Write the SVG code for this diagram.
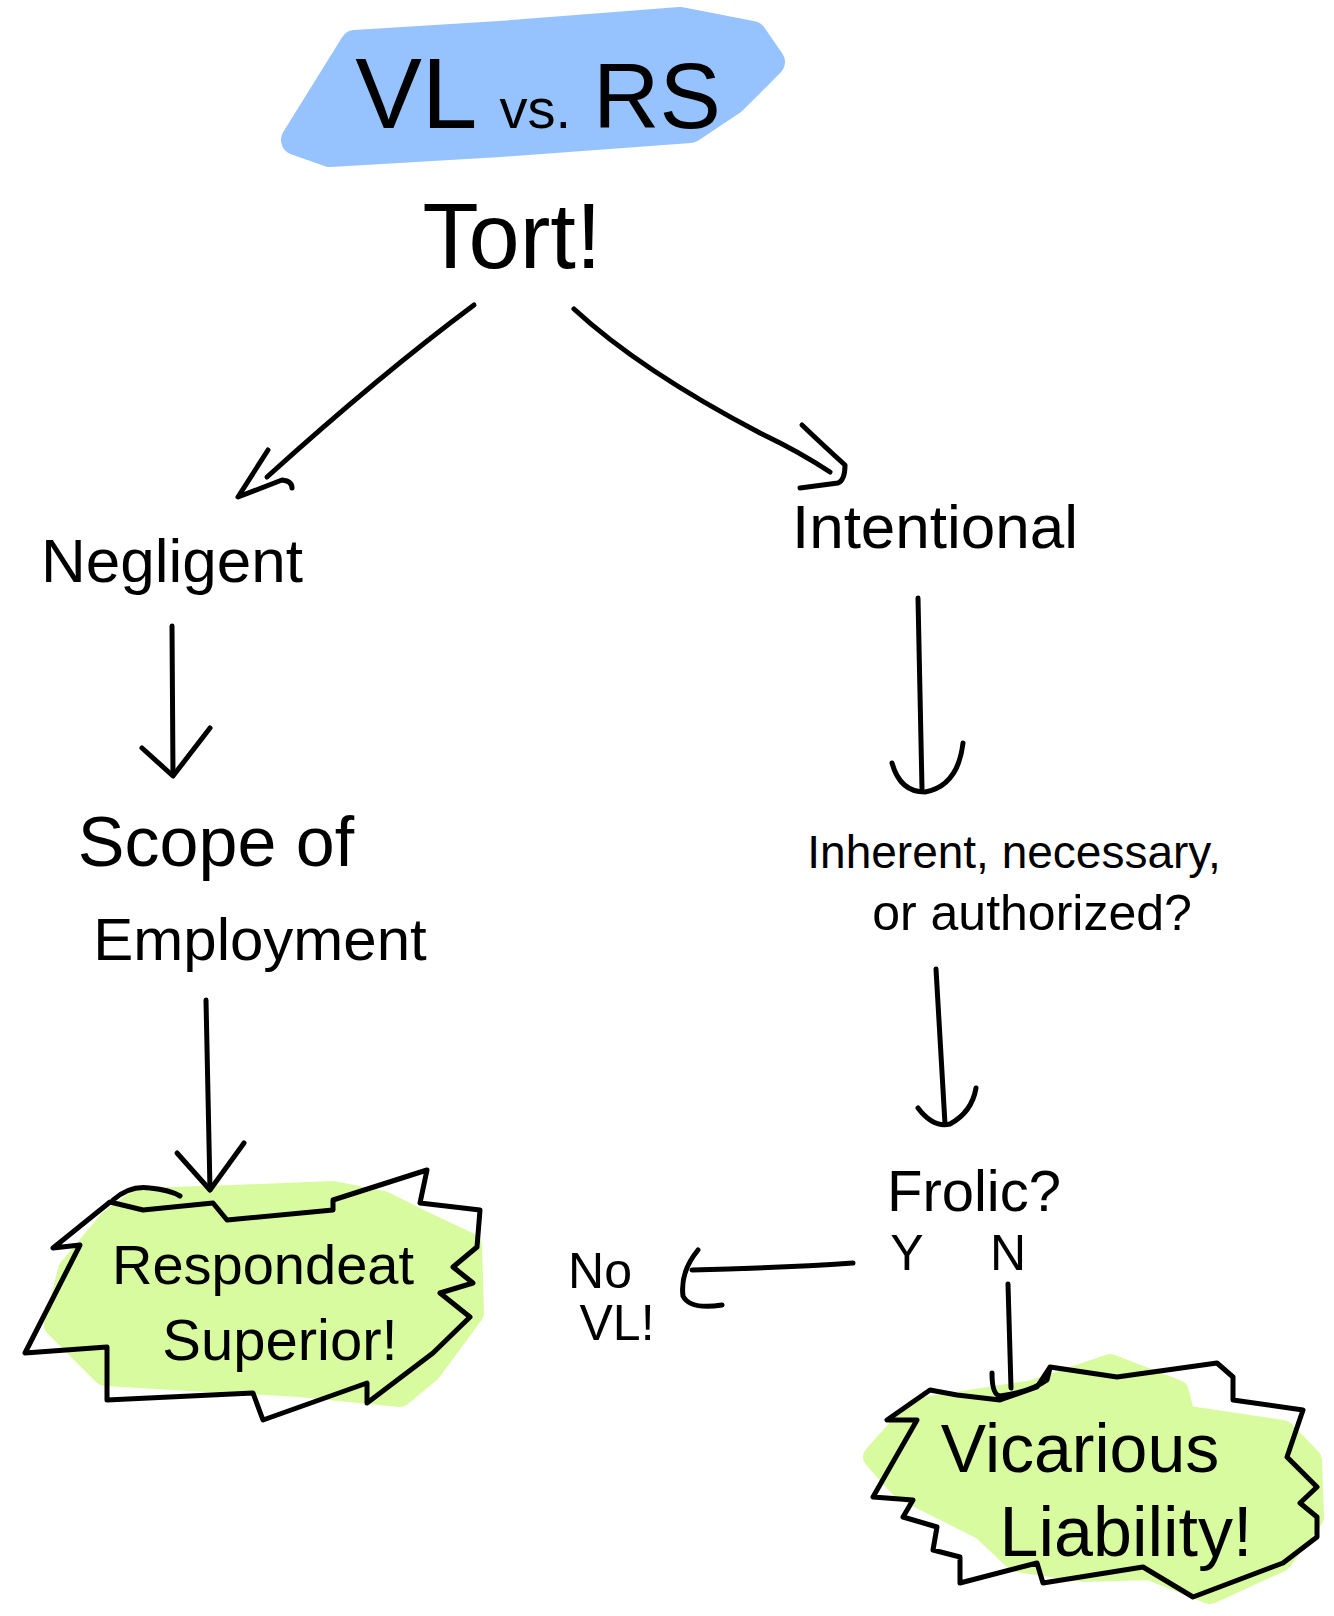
<svg xmlns="http://www.w3.org/2000/svg" width="1334" height="1616" viewBox="0 0 1334 1616">
<style>
  .t { font-family: "Liberation Sans", "DejaVu Sans", sans-serif; fill: #000; }
  .conn { fill: none; stroke: #000; stroke-width: 5; stroke-linecap: round; stroke-linejoin: round; }
  .outline { fill: none; stroke: #000; stroke-width: 5; stroke-linecap: round; stroke-linejoin: round; }
  .blue { fill: #96c3fd; stroke: #96c3fd; stroke-width: 30; stroke-linejoin: round; }
  .green { fill: #d9fba0; stroke: #d9fba0; stroke-width: 24; stroke-linejoin: round; }
</style>
<rect width="1334" height="1616" fill="#ffffff"/>

<g id="title">
  <path class="blue" d="M296,140 L355,45 L500,36 L680,22 L752,36 L770,62 L732,100 L690,128 L500,142 L330,152 Z"/>
  <text class="t" x="538" y="128" text-anchor="middle"><tspan font-size="100">VL</tspan><tspan font-size="56" dx="22">vs.</tspan><tspan font-size="92" dx="22">RS</tspan></text>
</g>

<g id="tort">
  <text class="t" x="512" y="268" text-anchor="middle" font-size="92">Tort!</text>
</g>

<g id="negligent">
  <text class="t" x="172" y="582" text-anchor="middle" font-size="62">Negligent</text>
</g>

<g id="intentional">
  <text class="t" x="935" y="548" text-anchor="middle" font-size="62">Intentional</text>
</g>

<g id="scope">
  <text class="t" x="216" y="866" text-anchor="middle" font-size="70">Scope of</text>
  <text class="t" x="260" y="960" text-anchor="middle" font-size="60">Employment</text>
</g>

<g id="inherent">
  <text class="t" x="1014" y="868" text-anchor="middle" font-size="46">Inherent, necessary,</text>
  <text class="t" x="1032" y="930" text-anchor="middle" font-size="50">or authorized?</text>
</g>

<g id="respondeat">
  <path class="green" d="M140,1200 L233,1197 L333,1193 L383,1203 L417,1220 L470,1245 L472,1313 L430,1370 L400,1395 L300,1385 L207,1380 L105,1374 L56,1325 L70,1270 L110,1222 Z"/>
  <path class="outline" d="M110,1202 L53,1248 L80,1245 L25,1353 L107,1347 L107,1400 L253,1393 L263,1420 L367,1383 L367,1403 L433,1353 L470,1317 L440,1293 L473,1283 L453,1267 L477,1247 L480,1210 L420,1203 L427,1170 L333,1200 L333,1210 L227,1220 L213,1203 L143,1210 Z M113,1200 Q130,1185 150,1188 Q170,1190 180,1196"/>
  <text class="t" x="263" y="1284" text-anchor="middle" font-size="56">Respondeat</text>
  <text class="t" x="280" y="1360" text-anchor="middle" font-size="58">Superior!</text>
</g>

<g id="frolic">
  <text class="t" x="974" y="1211" text-anchor="middle" font-size="58">Frolic?</text>
  <text class="t" x="907" y="1270" text-anchor="middle" font-size="50">Y</text>
  <text class="t" x="1008" y="1270" text-anchor="middle" font-size="50">N</text>
</g>

<g id="novl">
  <text class="t" x="600" y="1288" text-anchor="middle" font-size="50">No</text>
  <text class="t" x="617" y="1340" text-anchor="middle" font-size="50">VL!</text>
</g>

<g id="vicarious">
  <path class="green" d="M875,1457 L917,1410 L1033,1392 L1110,1366 L1177,1392 L1183,1417 L1283,1432 L1310,1460 L1312,1517 L1280,1560 L1210,1592 L1150,1568 L1083,1570 L1017,1560 L983,1528 L903,1488 Z"/>
  <path class="outline" d="M957,1395 L930,1390 L887,1420 L917,1420 L873,1497 L913,1500 L903,1517 L937,1527 L933,1550 L960,1557 L960,1583 L1037,1563 L1043,1583 L1143,1567 L1193,1597 L1283,1563 L1317,1537 L1317,1517 L1300,1503 L1317,1487 L1287,1457 L1303,1410 L1233,1400 L1233,1377 L1217,1363 L1117,1377 L1050,1367 L1037,1387 L1000,1400 Z"/>
  <text class="t" x="1080" y="1472" text-anchor="middle" font-size="68">Vicarious</text>
  <text class="t" x="1126" y="1556" text-anchor="middle" font-size="70">Liability!</text>
</g>

<g id="connectors">
  <path class="conn" d="M474,305 Q380,375 267,477"/>
  <path class="conn" d="M268,450 L238,497 L282,480 Q292,481 292,488"/>
  <path class="conn" d="M574,309 Q640,370 760,433 Q800,452 830,472"/>
  <path class="conn" d="M802,425 Q825,447 845,465 Q845,480 838,483 L800,488"/>
  <path class="conn" d="M172,626 L173,775"/>
  <path class="conn" d="M142,748 L173,776 L210,728"/>
  <path class="conn" d="M918,598 L922,789"/>
  <path class="conn" d="M892,763 Q900,792 925,792 Q958,786 963,743"/>
  <path class="conn" d="M206,1000 L210,1190"/>
  <path class="conn" d="M177,1153 L210,1190 L244,1143"/>
  <path class="conn" d="M936,969 L945,1124"/>
  <path class="conn" d="M918,1108 Q933,1128 950,1124 Q972,1112 976,1088"/>
  <path class="conn" d="M853,1263 Q780,1268 692,1270"/>
  <path class="conn" d="M698,1250 Q680,1272 683,1296 Q690,1310 722,1305"/>
  <path class="conn" d="M1008,1284 L1011,1388"/>
  <path class="conn" d="M992,1373 Q992,1395 1000,1396 Q1030,1392 1047,1380 L1050,1368"/>
</g>
</svg>
